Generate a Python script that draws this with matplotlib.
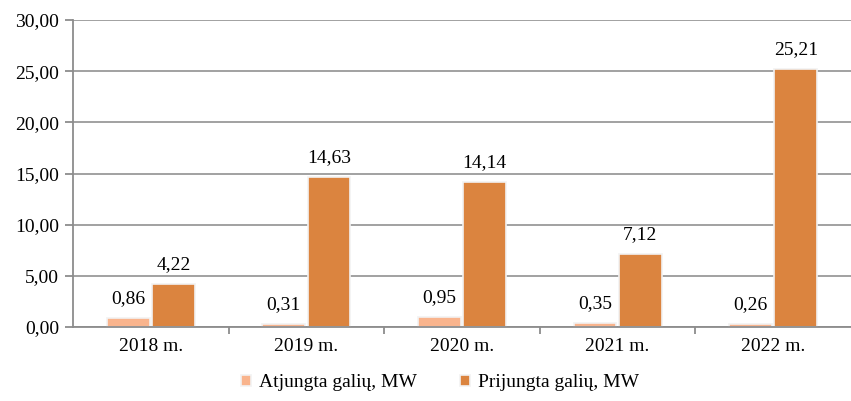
import matplotlib.pyplot as plt
import numpy as np

# Duomenys
metai = ['2018 m.', '2019 m.', '2020 m.', '2021 m.', '2022 m.']
atjungta = [0.86, 0.31, 0.95, 0.35, 0.26]
prijungta = [4.22, 14.63, 14.14, 7.12, 25.21]

plt.rcParams['font.family'] = ['Liberation Serif', 'DejaVu Serif']

spalva_sv = '#F9B48D'
spalva_tms = '#DB843F'
pilka = '#8c8c8c'

fig = plt.figure(figsize=(8.51, 4.01), dpi=100)
ax = fig.add_axes([0.0858, 0.1845, 0.9142, 0.7655])

x = np.arange(len(metai))
w = 0.275
b1 = ax.bar(x - 0.145, atjungta, w, color=spalva_sv, edgecolor='#f2f2f2', linewidth=1.2,
            label='Atjungta galių, MW', zorder=3)
b2 = ax.bar(x + 0.145, prijungta, w, color=spalva_tms, edgecolor='#f2f2f2', linewidth=1.2,
            label='Prijungta galių, MW', zorder=3)

fmt = lambda v: f'{v:.2f}'.replace('.', ',')
for bars, vals in [(b1, atjungta), (b2, prijungta)]:
    for r, v in zip(bars, vals):
        ax.annotate(fmt(v), (r.get_x() + r.get_width() / 2, v), xytext=(0, 8),
                    textcoords='offset points', ha='center', va='bottom', fontsize=14)

ax.set_xlim(-0.5, 4.5)
ax.set_ylim(0, 30)
ax.set_yticks(np.arange(0, 31, 5))
ax.set_yticklabels([fmt(v) for v in np.arange(0, 31, 5)], fontsize=14)
ax.set_xticks(x)
ax.set_xticklabels(metai, fontsize=14)
ax.set_xticks(np.arange(0.5, 4.5, 1), minor=True)
ax.tick_params(axis='x', which='major', length=0, pad=8)
ax.tick_params(axis='x', which='minor', length=5, color=pilka, width=1.3)
ax.tick_params(axis='y', length=6, color=pilka, width=1.3, pad=4)

ax.grid(axis='y', color='#9a9a9a', linewidth=1.3, zorder=0)
for s in ['top', 'right']:
    ax.spines[s].set_visible(False)
for s in ['left', 'bottom']:
    ax.spines[s].set_color(pilka)
    ax.spines[s].set_linewidth(1.3)
ax.spines['bottom'].set_zorder(4)

fig.legend(loc='center', bbox_to_anchor=(0.517, 0.045), ncol=2, frameon=False,
           fontsize=14, handlelength=0.55, handleheight=0.55, columnspacing=2.2,
           handletextpad=0.4)

plt.savefig('out.png', dpi=100)
